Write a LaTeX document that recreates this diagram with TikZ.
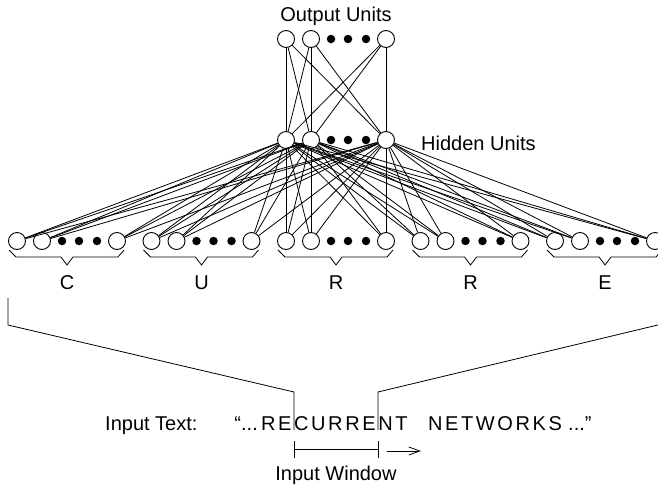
\documentclass[tikz,border=0pt]{standalone}
\usepackage{fontspec}
\setmainfont{Liberation Sans}
\usetikzlibrary{arrows.meta}
\newcommand{\tracked}{\addfontfeature{LetterSpace=13}}
\begin{document}
\begin{tikzpicture}[x=1pt,y=-1pt,
  unit/.style={circle,draw,line width=0.9pt,fill=white,minimum size=17pt,inner sep=0pt},
  dotu/.style={circle,fill=black,minimum size=8.5pt,inner sep=0pt},
  link/.style={line width=0.8pt},
  thinline/.style={line width=0.8pt},
  lbl/.style={font=\fontsize{20}{24}\selectfont,inner sep=0pt},
]
\useasboundingbox (0,0) rectangle (658,493);

% output layer
\node[unit] (o1) at (286,39) {};
\node[unit] (o2) at (311,39) {};
\node[dotu] (od1) at (331,39) {};
\node[dotu] (od2) at (348,39) {};
\node[dotu] (od3) at (366,39) {};
\node[unit] (o3) at (386,39) {};
\node[lbl] (outlbl) at (336,16) {Output Units};

% hidden layer
\node[unit] (h1) at (286,140) {};
\node[unit] (h2) at (311,140) {};
\node[dotu] (hd1) at (331,140) {};
\node[dotu] (hd2) at (348,140) {};
\node[dotu] (hd3) at (366,140) {};
\node[unit] (h3) at (386,140) {};
\node[lbl,anchor=west] (hidlbl) at (421,143) {Hidden Units};

% input groups, one per character of the window
\foreach \g/\x/\L in {1/17/C,2/151.5/U,3/286/R,4/420.5/R,5/555/E}{
  \node[unit] (i\g-1) at (\x,241) {};
  \node[unit] (i\g-2) at ({\x+25},241) {};
  \node[dotu] (i\g-d1) at ({\x+45},241) {};
  \node[dotu] (i\g-d2) at ({\x+62},241) {};
  \node[dotu] (i\g-d3) at ({\x+80},241) {};
  \node[unit] (i\g-3) at ({\x+100},241) {};
  \draw[thinline] ({\x-8},250) -- ({\x-1},257) -- ({\x+44},257) -- ({\x+50},265)
        -- ({\x+56},257) -- ({\x+101},257) -- ({\x+107},250);
  \node[lbl] (c\g) at ({\x+50},283) {\L};
}

% hidden -> output connections
\foreach \a in {1,2,3}{
  \foreach \b in {1,2,3}{
    \draw[link] (h\a) -- (o\b);
  }
}
% input -> hidden connections
\foreach \g in {1,...,5}{
  \foreach \k in {1,2,3}{
    \foreach \m in {1,2,3}{
      \draw[link] (i\g-\k) -- (h\m);
    }
  }
}

% funnel from the input groups down to the window
\draw[thinline] (8,298) -- (8,325) -- (294,392) -- (294,430);
\draw[thinline] (662,324) -- (378,392) -- (378,430);

% input text
\node[lbl,anchor=base west] (intext) at (105,430) {Input Text:};
\node[lbl,anchor=base east] (qopen) at (258,430) {“...};
\node[lbl,anchor=base west] (word1) at (261,430) {\tracked RECURRENT};
\node[lbl,anchor=base west] (word2) at (428,430) {\tracked NETWORKS};
\node[lbl,anchor=base west] (qclose) at (568,430) {...”};

% input window bracket and sliding arrow
\coordinate (wl) at (294,449);
\coordinate (wr) at (378,449);
\draw[thinline] (wl) -- (wr);
\draw[thinline] (294,441) -- (294,458);
\draw[thinline] (378,441) -- (378,458);
\coordinate (as) at (387,451);
\coordinate (ae) at (421,451);
\draw[thinline,-{Straight Barb[length=11pt,width=8pt]}] (as) -- (ae);
\node[lbl] (winlbl) at (336,475) {Input Window};
\end{tikzpicture}
\end{document}
